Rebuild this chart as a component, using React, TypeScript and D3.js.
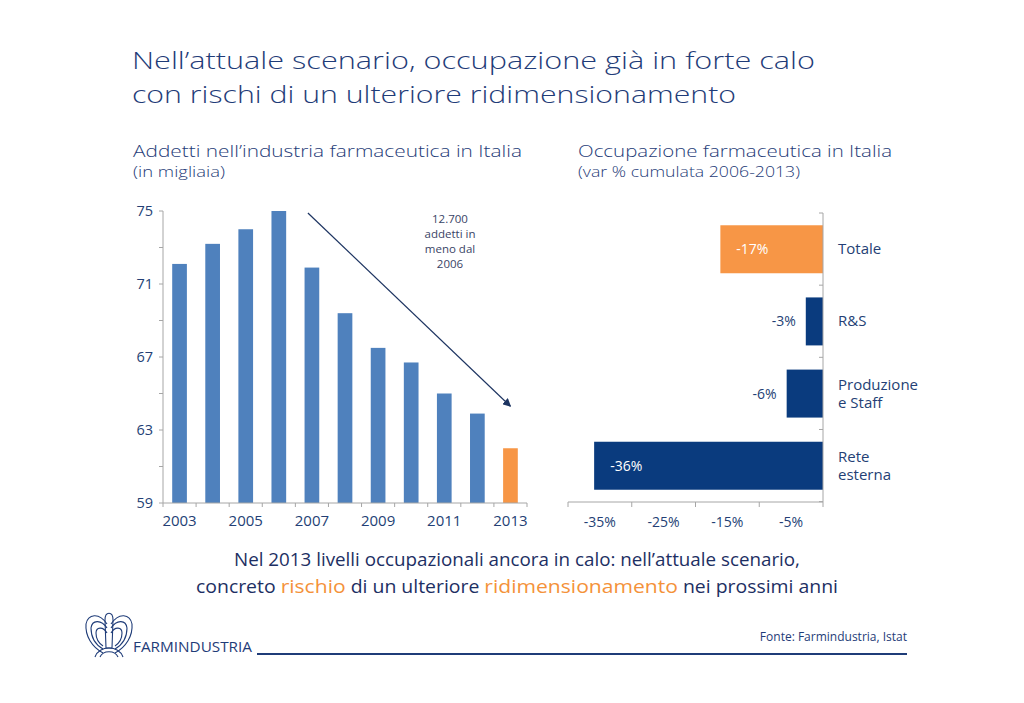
import React from "react";
import * as d3 from "d3";

const years = ["2003","2004","2005","2006","2007","2008","2009","2010","2011","2012","2013"];
const addetti = [72.1, 73.2, 74.0, 75.0, 71.9, 69.4, 67.5, 66.7, 65.0, 63.9, 62.0];
const yTicks = [59, 63, 67, 71, 75];
const yMinor = [61, 65, 69, 73];
const yearLabels = ["2003","2005","2007","2009","2011","2013"];

const categories = ["Totale", "R&S", "Produzione|e Staff", "Rete|esterna"];
const variazioni = [-16.1, -2.7, -5.7, -35.9];
const varLabels = ["-17%", "-3%", "-6%", "-36%"];
const xTickVals = [-40, -30, -20, -10, 0];
const xLabelVals = [-35, -25, -15, -5];
const noteLines = ["12.700", "addetti in", "meno dal", "2006"];

const NAVY = "#1f3c78";
const TXT = "#243f75";
const BLUE = "#4f81bd";
const ORANGE = "#f79646";
const DARK = "#0a3b7e";
const GRID = "#a6a6a6";
const FONT = "'Open Sans', 'Noto Sans', sans-serif";

export default function App() {
  const xb = d3.scaleBand<string>().domain(years).range([163, 527]).paddingInner(0.556).paddingOuter(0.278);
  const y = d3.scaleLinear().domain([59, 75]).range([503, 211]);
  const step = xb.step();
  const x0 = 163;

  const xr = d3.scaleLinear().domain([-40, 0]).range([568, 823]);
  const yb = d3.scaleBand<string>().domain(categories).range([213, 502]).paddingInner(0.335).paddingOuter(0.17);
  const ybStep = yb.step();

  const arrowX1 = (xb("2007") as number) + xb.bandwidth() / 2 - 4;
  const arrowY1 = y(75) + 2;
  const arrowX2 = (xb("2013") as number) + xb.bandwidth() / 2;
  const arrowY2 = y(64.3);

  return (
    <svg width={1024} height={703} viewBox="0 0 1024 703" style={{ display: "block", position: "absolute", left: 0, top: 0, background: "#fff" }}>
      <defs>
        <marker id="ah" viewBox="0 0 10 10" refX="9" refY="5" markerWidth="7" markerHeight="7" orient="auto">
          <path d="M0,0 L10,5 L0,10 z" fill="#1d3461" />
        </marker>
      </defs>
      <rect x={0} y={0} width={1024} height={703} fill="#fff" />

      {/* Title */}
      <g fontFamily={FONT} fill={NAVY} fontWeight={300}>
        <text x={132} y={69} fontSize={24.5} textLength={683} lengthAdjust="spacingAndGlyphs">Nell’attuale scenario, occupazione già in forte calo</text>
        <text x={132} y={103} fontSize={24.5} textLength={604} lengthAdjust="spacingAndGlyphs">con rischi di un ulteriore ridimensionamento</text>
        <text x={133} y={157} fontSize={17} textLength={389} lengthAdjust="spacingAndGlyphs">Addetti nell’industria farmaceutica in Italia</text>
        <text x={133} y={177} fontSize={15} textLength={92} lengthAdjust="spacingAndGlyphs">(in migliaia)</text>
        <text x={578} y={157} fontSize={17} textLength={314} lengthAdjust="spacingAndGlyphs">Occupazione farmaceutica in Italia</text>
        <text x={578} y={177} fontSize={15} textLength={222} lengthAdjust="spacingAndGlyphs">(var % cumulata 2006-2013)</text>
      </g>

      {/* Left chart */}
      <g fontFamily={FONT}>
        {years.map((yr, i) => (
          <rect key={yr} x={xb(yr)} y={y(addetti[i])} width={xb.bandwidth()} height={y(59) - y(addetti[i])} fill={yr === "2013" ? ORANGE : BLUE} />
        ))}
        <line x1={x0} x2={x0} y1={y(75)} y2={y(59)} stroke={GRID} strokeWidth={1} />
        <line x1={x0} x2={527} y1={y(59)} y2={y(59)} stroke={GRID} strokeWidth={1} />
        {[...yTicks, ...yMinor].map(t => (
          <line key={"yt" + t} x1={x0 - 4} x2={x0} y1={y(t)} y2={y(t)} stroke={GRID} />
        ))}
        {yTicks.map(t => (
          <text key={"yl" + t} x={153} y={y(t) + 5} fontSize={14.5} fill={TXT} textAnchor="end">{t}</text>
        ))}
        {d3.range(years.length + 1).map(i => (
          <line key={"xt" + i} x1={x0 + i * step} x2={x0 + i * step} y1={y(59)} y2={y(59) + 4} stroke={GRID} />
        ))}
        {yearLabels.map(yr => (
          <text key={"xl" + yr} x={(xb(yr) as number) + xb.bandwidth() / 2} y={526} fontSize={15} fill={TXT} textAnchor="middle">{yr}</text>
        ))}
        <line x1={arrowX1} y1={arrowY1} x2={arrowX2} y2={arrowY2} stroke="#1d3461" strokeWidth={1.2} markerEnd="url(#ah)" />
        <g fontSize={11.5} fill="#3a4466" textAnchor="middle">
          {noteLines.map((l, i) => (
            <text key={l} x={450} y={223 + i * 15}>{l}</text>
          ))}
        </g>
      </g>

      {/* Right chart */}
      <g fontFamily={FONT}>
        {categories.map((c, i) => {
          const v = variazioni[i];
          const bx = xr(v);
          const by = yb(c) as number;
          const h = yb.bandwidth();
          const inside = Math.abs(v) > 10;
          return (
            <g key={c}>
              <rect x={bx} y={by} width={xr(0) - bx} height={h} fill={i === 0 ? ORANGE : DARK} />
              {inside ? (
                <text x={bx + 16} y={by + h / 2 + 5} fontSize={14} fill="#fff">{varLabels[i]}</text>
              ) : (
                <text x={bx - 10} y={by + h / 2 + 5} fontSize={14} fill={TXT} textAnchor="end">{varLabels[i]}</text>
              )}
            </g>
          );
        })}
        <line x1={823} x2={823} y1={213} y2={502} stroke={GRID} />
        <line x1={568} x2={823} y1={502} y2={502} stroke={GRID} />
        {d3.range(categories.length + 1).map(i => (
          <line key={"ct" + i} x1={819} x2={823} y1={213 + i * ybStep} y2={213 + i * ybStep} stroke={GRID} />
        ))}
        {xTickVals.map(t => (
          <line key={"rt" + t} x1={xr(t)} x2={xr(t)} y1={502} y2={507} stroke={GRID} />
        ))}
        {xLabelVals.map(t => (
          <text key={"rl" + t} x={xr(t)} y={527} fontSize={14} fill={TXT} textAnchor="middle">{t + "%"}</text>
        ))}
        {categories.map(c => {
          const lines = c.split("|");
          const cy = (yb(c) as number) + yb.bandwidth() / 2;
          return (
            <text key={"cl" + c} x={838} y={cy + 5 - (lines.length - 1) * 9} fontSize={15} fill={TXT}>
              {lines.map((l, j) => (
                <tspan key={j} x={838} dy={j === 0 ? 0 : 18}>{l}</tspan>
              ))}
            </text>
          );
        })}
      </g>

      {/* Bottom message */}
      <g fontFamily={FONT} fontSize={17.5} fill="#1d2f63" textAnchor="start">
        <text x={234} y={566} textLength={566} lengthAdjust="spacingAndGlyphs">Nel 2013 livelli occupazionali ancora in calo: nell’attuale scenario,</text>
        <text x={196} y={593} textLength={642} lengthAdjust="spacingAndGlyphs">
          <tspan>concreto </tspan>
          <tspan fill="#f4923a" fontSize={19}>rischio</tspan>
          <tspan> di un ulteriore </tspan>
          <tspan fill="#f4923a" fontSize={19}>ridimensionamento</tspan>
          <tspan> nei prossimi anni</tspan>
        </text>
      </g>

      {/* Footer logo (stylised eagle) */}
      <g stroke={NAVY} strokeWidth={1.1} fill="none">
        <path d="M107,624 C99,612 88,614 86,624 C85,636 92,647 103,653" />
        <path d="M107,628 C101,619 92,620 91,628 C91,638 96,645 103,649" />
        <path d="M107,633 C103,626 96,627 96,633 C96,640 100,644 103,646" />
        <path d="M111,624 C119,612 130,614 132,624 C133,636 126,647 115,653" />
        <path d="M111,628 C117,619 126,620 127,628 C127,638 122,645 115,649" />
        <path d="M111,633 C115,626 122,627 122,633 C122,640 118,644 115,646" />
        <path d="M105,620 C105,611 113,611 113,620 L112,648 L106,648 Z" />
        <path d="M95,657 C99,645 119,645 123,657" />
        <path d="M100,657 C103,650 115,650 118,657" />
      </g>
      <text x={133} y={652} fontFamily={FONT} fontSize={15} fill={NAVY} textLength={119} lengthAdjust="spacingAndGlyphs">FARMINDUSTRIA</text>
      <line x1={257} x2={907} y1={654} y2={654} stroke={NAVY} strokeWidth={2} />
      <text x={907} y={641} fontFamily={FONT} fontSize={12} fill={NAVY} textAnchor="end">Fonte: Farmindustria, Istat</text>
    </svg>
  );
}
